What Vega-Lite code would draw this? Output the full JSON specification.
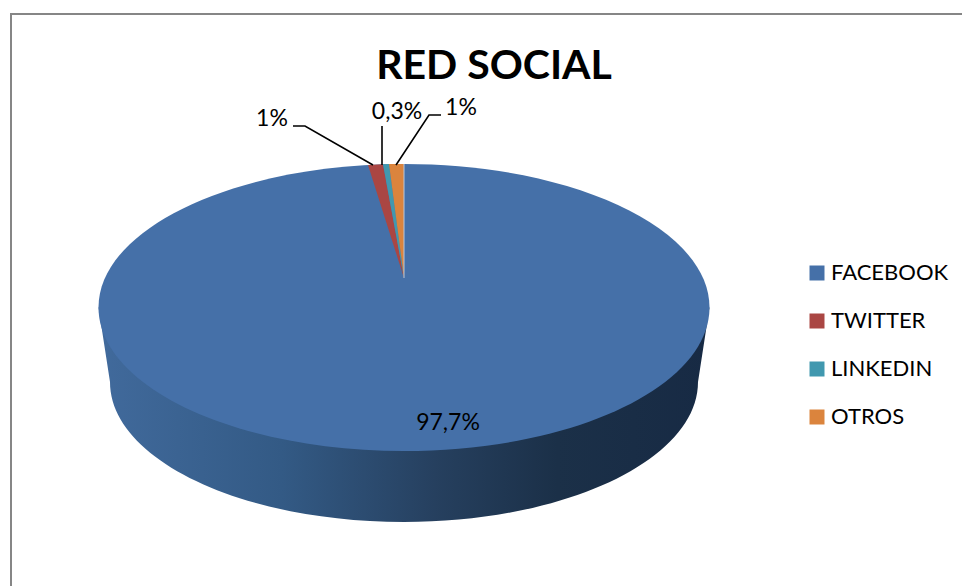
{"$schema":"https://vega.github.io/schema/vega-lite/v6.json","width":962,"height":586,"padding":0,"autosize":"none","background":"white","config":{"view":{"stroke":null},"font":"Lato"},"title":{"text":"RED SOCIAL","anchor":"middle","frame":"group","align":"center","baseline":"alphabetic","offset":0,"dx":13,"dy":120,"font":"Lato","fontSize":41,"fontWeight":"bold","color":"#000000"},"data":{"values":[{"name":"FACEBOOK","key":"F","value":97.7,"label":"97,7%"},{"name":"TWITTER","key":"T","value":1,"label":"1%"},{"name":"LINKEDIN","key":"L","value":0.3,"label":"0,3%"},{"name":"OTROS","key":"O","value":1,"label":"1%"}]},"layer":[{"transform":[{"filter":"datum.name==='FACEBOOK'"}],"mark":{"type":"point","filled":true,"opacity":1,"size":4,"strokeWidth":0,"shape":"M-471,293 L-471,-280 L481,-280 L481,-278 L-469,-278 L-469,293 Z","fill":"#868686"},"encoding":{}},{"transform":[{"filter":"datum.name==='FACEBOOK'"}],"mark":{"type":"point","filled":true,"opacity":1,"size":4,"strokeWidth":0,"shape":"M-382.5,14.5 L-371,89 A294,140 0 0 0 217,89 L228.5,14.5 Z","fill":{"gradient":"linear","x1":0,"y1":0,"x2":1,"y2":0,"stops":[{"offset":0,"color":"#416a9c"},{"offset":0.3,"color":"#335a85"},{"offset":0.55,"color":"#26405f"},{"offset":0.75,"color":"#1b3048"},{"offset":1,"color":"#172a44"}]}},"encoding":{}},{"mark":{"type":"point","filled":true,"opacity":1,"strokeWidth":0},"encoding":{"size":{"value":4},"color":{"field":"name","type":"nominal","scale":{"domain":["FACEBOOK","TWITTER","LINKEDIN","OTROS"],"range":["#4570a8","#aa4643","#4198af","#db843d"]},"legend":{"title":null,"orient":"none","legendX":806,"legendY":262,"symbolType":"square","symbolSize":225,"symbolStrokeWidth":0,"labelFont":"Lato","labelFontSize":22,"labelColor":"#000000","labelLimit":300,"labelOffset":3,"rowPadding":26}},"shape":{"field":"key","type":"nominal","legend":null,"scale":{"domain":["F","T","L","O"],"range":["M-382.5,14.5 A305.5,143.5 0 1 1 228.5,14.5 A305.5,143.5 0 1 1 -382.5,14.5 Z","M-77,-15 L-113,-128 L-98,-128.7 Z","M-77,-15 L-98,-128.7 L-92,-128.9 Z","M-77,-15 L-92,-128.9 L-77,-129 Z"]}}}},{"transform":[{"filter":"datum.name==='FACEBOOK'"}],"mark":{"type":"point","filled":false,"opacity":1,"size":4,"strokeWidth":1,"stroke":"#b9c7da","shape":"M-77,-15 L-77,-129"},"encoding":{}},{"transform":[{"filter":"datum.name==='TWITTER'"}],"mark":{"type":"point","filled":false,"opacity":1,"size":4,"strokeWidth":1.6,"stroke":"#000000","shape":"M-188,-167 L-176,-167 L-108,-128"},"encoding":{}},{"transform":[{"filter":"datum.name==='LINKEDIN'"}],"mark":{"type":"point","filled":false,"opacity":1,"size":4,"strokeWidth":1.6,"stroke":"#000000","shape":"M-99,-167 L-99,-128"},"encoding":{}},{"transform":[{"filter":"datum.name==='OTROS'"}],"mark":{"type":"point","filled":false,"opacity":1,"size":4,"strokeWidth":1.6,"stroke":"#000000","shape":"M-40,-178 L-52,-178 L-85,-128"},"encoding":{}},{"transform":[{"filter":"datum.name==='FACEBOOK'"}],"mark":{"type":"text","font":"Lato","fontSize":23,"color":"#000000","baseline":"middle","align":"center","dx":-33,"dy":130},"encoding":{"text":{"field":"label"}}},{"transform":[{"filter":"datum.name==='TWITTER'"}],"mark":{"type":"text","font":"Lato","fontSize":23,"color":"#000000","baseline":"middle","align":"center","dx":-209,"dy":-174},"encoding":{"text":{"field":"label"}}},{"transform":[{"filter":"datum.name==='LINKEDIN'"}],"mark":{"type":"text","font":"Lato","fontSize":23,"color":"#000000","baseline":"middle","align":"center","dx":-84,"dy":-181},"encoding":{"text":{"field":"label"}}},{"transform":[{"filter":"datum.name==='OTROS'"}],"mark":{"type":"text","font":"Lato","fontSize":23,"color":"#000000","baseline":"middle","align":"center","dx":-20,"dy":-185},"encoding":{"text":{"field":"label"}}}]}
